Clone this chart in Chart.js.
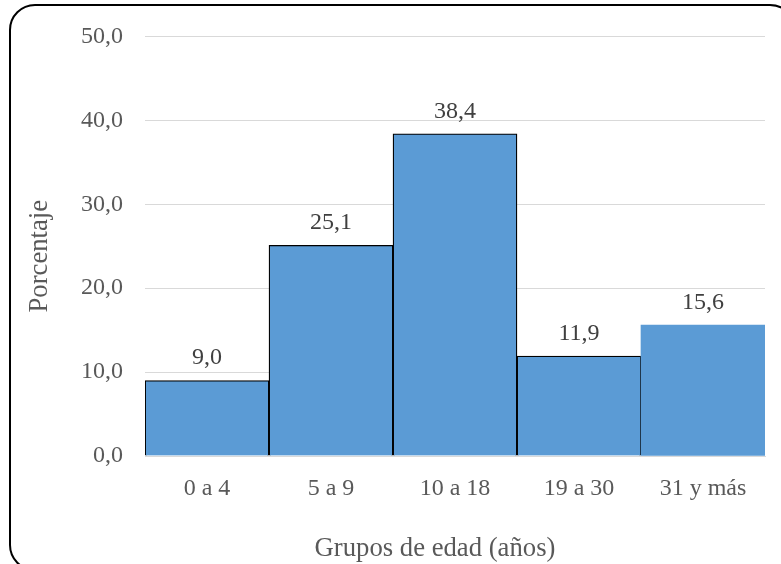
<!DOCTYPE html>
<html lang="es">
<head>
<meta charset="utf-8">
<script src="https://cdn.jsdelivr.net/npm/chart.js@4/dist/chart.umd.min.js"></script>
<style>
  html, body { margin: 0; padding: 0; background: #ffffff; }
  #chart { display: block; }
</style>
</head>
<body>
<canvas id="chart" width="781" height="564"></canvas>
<script>
// Age groups and their share of the total (%)
const ageGroups = ['0 a 4', '5 a 9', '10 a 18', '19 a 30', '31 y más'];
const percentages = [9.0, 25.1, 38.4, 11.9, 15.6];
const yTickLabels = ['0,0', '10,0', '20,0', '30,0', '40,0', '50,0'];
const xAxisTitle = 'Grupos de edad (años)';
const yAxisTitle = 'Porcentaje';

const SERIF = '"Liberation Serif", "Times New Roman", serif';
const TEXT_GRAY = '#595959';

// Rounded frame around the whole figure
const framePlugin = {
  id: 'frame',
  beforeDraw(chart) {
    const ctx = chart.ctx;
    const x = 10, y = 5, w = 785, h = 565, r = 25;
    ctx.save();
    ctx.fillStyle = '#ffffff';
    ctx.fillRect(0, 0, chart.width, chart.height);
    ctx.beginPath();
    ctx.moveTo(x + r, y);
    ctx.lineTo(x + w - r, y);
    ctx.arcTo(x + w, y, x + w, y + r, r);
    ctx.lineTo(x + w, y + h - r);
    ctx.arcTo(x + w, y + h, x + w - r, y + h, r);
    ctx.lineTo(x + r, y + h);
    ctx.arcTo(x, y + h, x, y + h - r, r);
    ctx.lineTo(x, y + r);
    ctx.arcTo(x, y, x + r, y, r);
    ctx.closePath();
    ctx.lineWidth = 2;
    ctx.strokeStyle = '#000000';
    ctx.stroke();
    ctx.restore();
  }
};

// Axis titles, placed a little off the plot centre
const axisTitles = {
  id: 'axisTitles',
  afterDraw(chart) {
    const ctx = chart.ctx;
    const area = chart.chartArea;
    ctx.save();
    ctx.font = '26.7px ' + SERIF;
    ctx.fillStyle = TEXT_GRAY;
    ctx.textAlign = 'center';
    ctx.textBaseline = 'alphabetic';
    ctx.fillText(xAxisTitle, (area.left + area.right) / 2 - 20, 556);
    ctx.translate(47, (area.top + area.bottom) / 2 + 10);
    ctx.rotate(-Math.PI / 2);
    ctx.fillText(yAxisTitle, 0, 0);
    ctx.restore();
  }
};

// Value written above each bar, with a decimal comma
const valueLabels = {
  id: 'valueLabels',
  afterDatasetsDraw(chart) {
    const ctx = chart.ctx;
    const meta = chart.getDatasetMeta(0);
    const values = chart.data.datasets[0].data;
    ctx.save();
    ctx.font = '24px ' + SERIF;
    ctx.fillStyle = '#404040';
    ctx.textAlign = 'center';
    ctx.textBaseline = 'alphabetic';
    meta.data.forEach((bar, i) => {
      const txt = values[i].toFixed(1).replace('.', ',');
      ctx.fillText(txt, bar.x, bar.y - 16);
    });
    ctx.restore();
  }
};

new Chart(document.getElementById('chart'), {
  type: 'bar',
  data: {
    labels: ageGroups,
    datasets: [{
      data: percentages,
      backgroundColor: '#5B9BD5',
      borderColor: '#000000',
      borderWidth: [1.3, 1.3, 1.3, 1.3, 0],
      borderSkipped: 'start',
      barPercentage: 1,
      categoryPercentage: 1
    }]
  },
  options: {
    responsive: false,
    devicePixelRatio: 1,
    animation: false,
    layout: { padding: { left: 0, right: 16, top: 34, bottom: 0 } },
    plugins: {
      legend: { display: false },
      tooltip: { enabled: false }
    },
    scales: {
      x: {
        grid: { display: false, drawTicks: false },
        border: { display: true, color: '#D9D9D9', width: 1 },
        ticks: {
          font: { family: SERIF, size: 24 },
          color: TEXT_GRAY,
          padding: 18
        },
        afterFit(scale) { scale.height = 108; }
      },
      y: {
        min: 0,
        max: 50,
        grid: { color: '#D9D9D9', lineWidth: 1, drawTicks: false },
        border: { display: false },
        ticks: {
          stepSize: 10,
          font: { family: SERIF, size: 24 },
          color: TEXT_GRAY,
          padding: 22,
          callback: (value, index) => yTickLabels[index]
        },
        afterFit(scale) { scale.width = 145; }
      }
    }
  },
  plugins: [framePlugin, axisTitles, valueLabels]
});
</script>
</body>
</html>
